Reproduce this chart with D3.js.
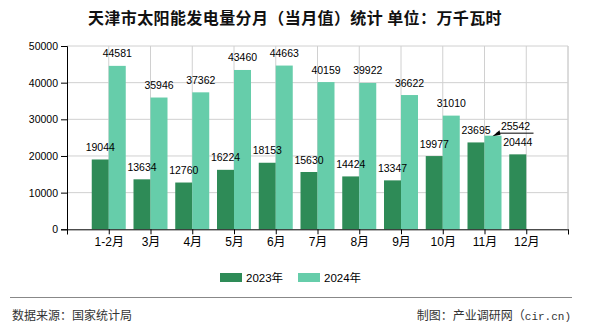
<!DOCTYPE html>
<html><head><meta charset="utf-8">
<script src="https://cdn.jsdelivr.net/npm/d3@7"></script>
<style>
html,body{margin:0;padding:0;background:#fff;}
svg{display:block;}
</style></head>
<body>
<svg id="c" width="590" height="330"></svg>
<script>
const categories = ["1-2月","3月","4月","5月","6月","7月","8月","9月","10月","11月","12月"];
const series2023 = [19044,13634,12760,16224,18153,15630,14424,13347,19977,23695,20444];
const series2024 = [44581,35946,37362,43460,44663,40159,39922,36622,31010,25542,null];
const seriesNames = ["2023年","2024年"];
const yTicks = [0,10000,20000,30000,40000,50000];
const colors = ["#2e8b57","#66cdaa"];

const svg = d3.select("#c");
const L = 67, R = 568, T = 46, B = 229.3;
const domain = ["_s", ...categories, "_e"];
const x = d3.scalePoint().domain(domain).range([L, R]);
const step = x.step();
const y = d3.scaleLinear().domain([0, 50000]).range([B, T]);
const bw = 17;
const numFont = "'Liberation Sans', Arial, 'Noto Sans CJK SC', sans-serif";

// title
svg.append("text").attr("x", 295).attr("y", 24).attr("text-anchor", "middle")
  .attr("font-family", "'Noto Sans CJK SC', sans-serif").attr("font-size", 16).attr("font-weight", "bold")
  .attr("fill", "#111").attr("letter-spacing", 0.4)
  .text("天津市太阳能发电量分月（当月值）统计 单位：万千瓦时");

// grid
const g = svg.append("g");
g.selectAll(".hg").data(yTicks.filter(d => d > 0)).enter().append("line")
  .attr("x1", L).attr("x2", R).attr("y1", d => y(d)).attr("y2", d => y(d))
  .attr("stroke", "#d0d0d0").attr("stroke-width", 1);
const tickIdx = d3.range(0, domain.length);
g.selectAll(".vg").data(tickIdx.slice(1)).enter().append("line")
  .attr("x1", i => L + i * step).attr("x2", i => L + i * step).attr("y1", T).attr("y2", B)
  .attr("stroke", "#d0d0d0").attr("stroke-width", 1);

// bars
const bars = svg.append("g");
categories.forEach((c, i) => {
  const cx = x(c);
  if (series2023[i] != null) bars.append("rect").attr("x", cx - bw).attr("y", y(series2023[i]))
    .attr("width", bw).attr("height", B - y(series2023[i])).attr("fill", colors[0]);
  if (series2024[i] != null) bars.append("rect").attr("x", cx).attr("y", y(series2024[i]))
    .attr("width", bw).attr("height", B - y(series2024[i])).attr("fill", colors[1]);
});

// axes
const yAxis = d3.axisLeft(y).tickValues(yTicks).tickSize(6).tickPadding(3).tickFormat(d3.format("d"));
const ya = svg.append("g").attr("transform", `translate(${L},0)`).call(yAxis);
ya.select(".domain").attr("stroke", "#000");
ya.selectAll(".tick line").attr("stroke", "#000");
ya.selectAll("text").attr("font-family", numFont).attr("font-size", 10.5).attr("fill", "#000");

const xAxis = d3.axisBottom(x).tickSizeOuter(0).tickSize(5).tickPadding(3)
  .tickFormat(d => d.startsWith("_") ? "" : d);
const xa = svg.append("g").attr("transform", `translate(0,${B})`).call(xAxis);
xa.select(".domain").attr("stroke", "#000");
xa.selectAll(".tick line").attr("stroke", "#000");
xa.selectAll("text").attr("font-family", numFont).attr("font-size", 12).attr("fill", "#000");

// right border line
svg.append("line").attr("x1", R).attr("x2", R).attr("y1", T).attr("y2", B).attr("stroke", "#d0d0d0");

// value labels
const lab = svg.append("g").attr("font-family", numFont).attr("font-size", 10.5).attr("fill", "#000")
  .attr("text-anchor", "middle");
categories.forEach((c, i) => {
  const cx = x(c);
  if (series2023[i] != null) lab.append("text").attr("x", cx - bw / 2).attr("y", y(series2023[i]) - 8.5)
    .text(series2023[i]);
  if (series2024[i] != null) {
    if (i === 9) {
      // shifted label with leader line (as in reference)
      const by = y(series2024[i]);
      const bx = cx + 8;
      lab.append("text").attr("x", cx + 31).attr("y", by - 6).text(series2024[i]);
      svg.append("line").attr("x1", cx + 12).attr("y1", by - 2.5).attr("x2", cx + 49).attr("y2", by - 2.5)
        .attr("stroke", "#000").attr("stroke-width", 1);
      svg.append("path").attr("d", `M${bx},${by + 0.5} L${bx + 7},${by - 5.5} L${bx + 8},${by - 1} Z`).attr("fill", "#000");
    } else {
      lab.append("text").attr("x", cx + bw / 2).attr("y", y(series2024[i]) - 8.5).text(series2024[i]);
    }
  }
});

// legend
const leg = svg.append("g");
const legX = [220, 298];
seriesNames.forEach((n, k) => {
  leg.append("rect").attr("x", legX[k]).attr("y", 273).attr("width", 22).attr("height", 9).attr("fill", colors[k]);
  leg.append("text").attr("x", legX[k] + 26).attr("y", 281.5).attr("font-family", numFont)
    .attr("font-size", 11.5).attr("fill", "#000").text(n);
});

// footer
svg.append("line").attr("x1", 10).attr("x2", 572).attr("y1", 297.5).attr("y2", 297.5)
  .attr("stroke", "#888").attr("stroke-width", 1);
svg.append("text").attr("x", 12).attr("y", 320).attr("font-family", "'Noto Sans CJK SC', sans-serif")
  .attr("font-size", 12).attr("fill", "#333").text("数据来源：国家统计局");
const ft = svg.append("text").attr("x", 571).attr("y", 320).attr("text-anchor", "end")
  .attr("font-family", "'Noto Sans CJK SC', sans-serif").attr("font-size", 12).attr("fill", "#333");
ft.append("tspan").text("制图：产业调研网（");
ft.append("tspan").attr("font-family", "'Liberation Mono', monospace").attr("font-size", 11).text("cir.cn)");
</script>
</body></html>
